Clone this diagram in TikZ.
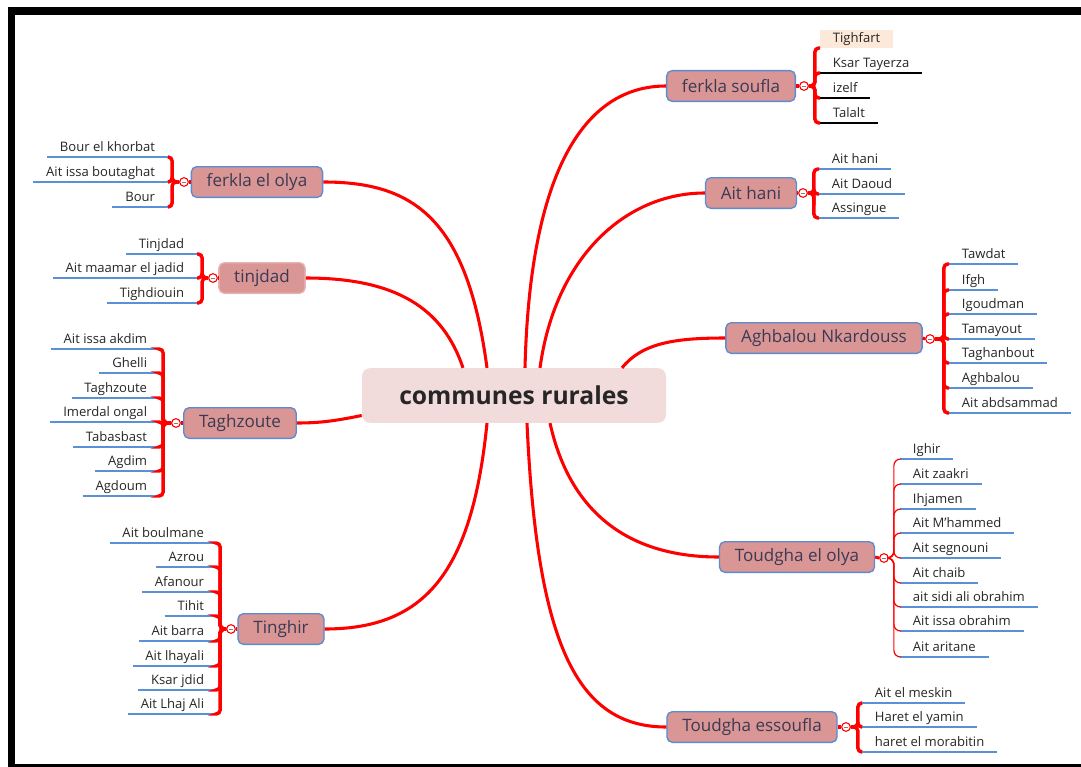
\documentclass[tikz,border=0pt]{standalone}
\usepackage{fontspec}
\setmainfont{Open Sans}
\usepackage{tikz}
\definecolor{mapred}{HTML}{FF0000}
\definecolor{topicfill}{HTML}{D99694}
\definecolor{topicline}{HTML}{5B8BD0}
\definecolor{topictext}{HTML}{3A3A55}
\definecolor{centrefill}{HTML}{F2DCDB}
\definecolor{leafline}{HTML}{5B8FD6}
\definecolor{leaftext}{HTML}{262626}
\definecolor{peach}{HTML}{FDE9D9}
\newcommand{\leafright}[4][leafline]{\node[leaf,anchor=south west] (#2) at (#3) {#4}; \draw[uline,draw=#1] (#2.south west) -- (#2.south east)}
\newcommand{\leafleft}[3]{\node[leaf,anchor=south east] (#1) at (#2) {#3}; \draw[uline] (#1.south west) -- (#1.south east)}
\newcommand{\fold}[2]{\node[fold] (#1) at (#2) {}}

\begin{document}
\begin{tikzpicture}[x=0.75pt,y=-0.75pt,
    centre/.style={fill=centrefill,rounded corners=6pt,minimum width=228pt,minimum height=41pt,
        font=\fontsize{18.5}{22}\selectfont\bfseries,text=leaftext},
    topic/.style={fill=topicfill,draw=topicline,line width=1pt,rounded corners=4pt,minimum height=23pt,
        inner xsep=11.5pt,font=\fontsize{12.8}{15}\selectfont,text=topictext},
    leaf/.style={inner xsep=9.5pt,inner ysep=1.8pt,text height=7.4pt,text depth=2.2pt,
        font=\fontsize{9.8}{11}\selectfont,text=leaftext},
    uline/.style={line width=1.5pt,draw=leafline},
    link/.style={mapred,line width=2.3pt},
    brace/.style={mapred,line width=2.6pt,rounded corners=3pt},
    thinbrace/.style={mapred,line width=0.9pt,rounded corners=5pt},
    fold/.style={circle,draw=mapred,fill=white,line width=0.8pt,minimum size=6.5pt,inner sep=0pt,
        path picture={\draw[gray,line width=0.4pt] ([xshift=-1.6pt]path picture bounding box.center)
        -- ([xshift=1.6pt]path picture bounding box.center);}}]
    \useasboundingbox (0,0) rectangle (1081,767);

    % frame
    \fill[black] (8,7) rectangle (1081,15);
    \fill[black] (8,7) rectangle (15,767);
    \fill[black] (15,764) rectangle (1081,767);

    \node[centre] (cr) at (514,395.5) {communes rurales};

    \node[topic] (fs) at (731,86) {ferkla soufla};
    \node[topic] (ah) at (751,193) {Ait hani};
    \node[topic] (ag) at (824,338) {Aghbalou Nkardouss};
    \node[topic] (te) at (797,557) {Toudgha el olya};
    \node[topic] (ts) at (752,727) {Toudgha essoufla};
    \node[topic] (fo) at (257,182) {ferkla el olya};
    \node[topic,draw=topicfill!70!white] (tj) at (262,278) {tinjdad};
    \node[topic] (tz) at (240,423) {Taghzoute};
    \node[topic] (tg) at (281,629) {Tinghir};

    \draw[link] ([xshift=8.25pt]cr.north) .. controls +(5,-200) and +(-80,0) .. (fs.west);
    \draw[link] ([xshift=19.5pt]cr.north) .. controls +(15,-110) and +(-80,0) .. (ah.west);
    \draw[link] ([xshift=81pt]cr.north) .. controls +(20,-25) and +(-50,0) .. (ag.west);
    \draw[link] ([xshift=27pt]cr.south) .. controls +(20,90) and +(-90,0) .. (te.west);
    \draw[link] ([xshift=9.75pt]cr.south) .. controls +(10,220) and +(-90,0) .. (ts.west);
    \draw[link] ([xshift=-20.25pt]cr.north) .. controls +(-20,-150) and +(90,0) .. (fo.east);
    \draw[link] ([xshift=-38.25pt]cr.north) .. controls +(-20,-60) and +(90,0) .. (tj.east);
    \draw[link] ([yshift=-15pt]cr.west) .. controls +(-25,5) and +(25,0) .. (tz.east);
    \draw[link] ([xshift=-20.25pt]cr.south) .. controls +(-15,150) and +(100,0) .. (tg.east);

    % ferkla soufla
    \fold{mfs}{804,86};
    \draw[link] (fs.east) -- (mfs.west);
    \node[leaf,fill=peach,anchor=south west] (fs1) at (820,48) {Tighfart};
    \leafright[black]{fs2}{820,73}{Ksar Tayerza};
    \leafright[black]{fs3}{820,98}{izelf};
    \leafright[black]{fs4}{820,123}{Talalt};
    \draw[brace] (mfs.east) -- ++(6,0) |- (fs1.south west);
    \draw[brace] (mfs.east) -- ++(6,0) |- (fs2.south west);
    \draw[brace] (mfs.east) -- ++(6,0) |- (fs3.south west);
    \draw[brace] (mfs.east) -- ++(6,0) |- (fs4.south west);

    % Ait hani
    \fold{mah}{803,193};
    \draw[link] (ah.east) -- (mah.west);
    \leafright{ah1}{819,169}{Ait hani};
    \leafright{ah2}{819,194}{Ait Daoud};
    \leafright{ah3}{819,218}{Assingue};
    \draw[brace] (mah.east) -- ++(6,0) |- (ah1.south west);
    \draw[brace] (mah.east) -- ++(6,0) |- (ah2.south west);
    \draw[brace] (mah.east) -- ++(6,0) |- (ah3.south west);

    % Aghbalou Nkardouss
    \fold{mag}{930,339};
    \draw[link] (ag.east) -- (mag.west);
    \leafright{ag1}{949,264}{Tawdat};
    \leafright{ag2}{949,290}{Ifgh};
    \leafright{ag3}{949,314}{Igoudman};
    \leafright{ag4}{949,339}{Tamayout};
    \leafright{ag5}{949,363}{Taghanbout};
    \leafright{ag6}{949,388}{Aghbalou};
    \leafright{ag7}{949,413}{Ait abdsammad};
    \draw[brace] (mag.east) -- ++(9,0) |- (ag1.south west);
    \draw[brace] (mag.east) -- ++(9,0) |- (ag2.south west);
    \draw[brace] (mag.east) -- ++(9,0) |- (ag3.south west);
    \draw[brace] (mag.east) -- ++(9,0) |- (ag4.south west);
    \draw[brace] (mag.east) -- ++(9,0) |- (ag5.south west);
    \draw[brace] (mag.east) -- ++(9,0) |- (ag6.south west);
    \draw[brace] (mag.east) -- ++(9,0) |- (ag7.south west);

    % Toudgha el olya
    \fold{mte}{884,558};
    \draw[link] (te.east) -- (mte.west);
    \leafright{te1}{900,459}{Ighir};
    \leafright{te2}{900,484}{Ait zaakri};
    \leafright{te3}{900,509}{Ihjamen};
    \leafright{te4}{900,533}{Ait M'hammed};
    \leafright{te5}{900,558}{Ait segnouni};
    \leafright{te6}{900,583}{Ait chaib};
    \leafright{te7}{900,607}{ait sidi ali obrahim};
    \leafright{te8}{900,631}{Ait issa obrahim};
    \leafright{te9}{900,657}{Ait aritane};
    \draw[thinbrace] (mte.east) -- ++(5,0) |- (te1.south west);
    \draw[thinbrace] (mte.east) -- ++(5,0) |- (te2.south west);
    \draw[thinbrace] (mte.east) -- ++(5,0) |- (te3.south west);
    \draw[thinbrace] (mte.east) -- ++(5,0) |- (te4.south west);
    \draw[thinbrace] (mte.east) -- ++(5,0) |- (te5.south west);
    \draw[thinbrace] (mte.east) -- ++(5,0) |- (te6.south west);
    \draw[thinbrace] (mte.east) -- ++(5,0) |- (te7.south west);
    \draw[thinbrace] (mte.east) -- ++(5,0) |- (te8.south west);
    \draw[thinbrace] (mte.east) -- ++(5,0) |- (te9.south west);

    % Toudgha essoufla
    \fold{mts}{846,727};
    \draw[link] (ts.east) -- (mts.west);
    \leafright{ts1}{862,703}{Ait el meskin};
    \leafright{ts2}{862,727}{Haret el yamin};
    \leafright{ts3}{862,752}{haret el morabitin};
    \draw[brace] (mts.east) -- ++(7,0) |- (ts1.south west);
    \draw[brace] (mts.east) -- ++(7,0) |- (ts2.south west);
    \draw[brace] (mts.east) -- ++(7,0) |- (ts3.south west);

    % ferkla el olya
    \fold{mfo}{184,182};
    \draw[link] (fo.west) -- (mfo.east);
    \leafleft{fo1}{168,157}{Bour el khorbat};
    \leafleft{fo2}{168,182}{Ait issa boutaghat};
    \leafleft{fo3}{168,207}{Bour};
    \draw[brace] (mfo.west) -- ++(-7,0) |- (fo1.south east);
    \draw[brace] (mfo.west) -- ++(-7,0) |- (fo2.south east);
    \draw[brace] (mfo.west) -- ++(-7,0) |- (fo3.south east);

    % tinjdad
    \fold{mtj}{213,278};
    \draw[link] (tj.west) -- (mtj.east);
    \leafleft{tj1}{197,254}{Tinjdad};
    \leafleft{tj2}{197,278}{Ait maamar el jadid};
    \leafleft{tj3}{197,303}{Tighdiouin};
    \draw[brace] (mtj.west) -- ++(-6,0) |- (tj1.south east);
    \draw[brace] (mtj.west) -- ++(-6,0) |- (tj2.south east);
    \draw[brace] (mtj.west) -- ++(-6,0) |- (tj3.south east);

    % Taghzoute
    \fold{mtz}{176,423};
    \draw[link] (tz.west) -- (mtz.east);
    \leafleft{tz1}{160,349}{Ait issa akdim};
    \leafleft{tz2}{160,373}{Ghelli};
    \leafleft{tz3}{160,398}{Taghzoute};
    \leafleft{tz4}{160,422}{Imerdal ongal};
    \leafleft{tz5}{160,447}{Tabasbast};
    \leafleft{tz6}{160,471}{Agdim};
    \leafleft{tz7}{160,496}{Agdoum};
    \draw[brace] (mtz.west) -- ++(-8,0) |- (tz1.south east);
    \draw[brace] (mtz.west) -- ++(-8,0) |- (tz2.south east);
    \draw[brace] (mtz.west) -- ++(-8,0) |- (tz3.south east);
    \draw[brace] (mtz.west) -- ++(-8,0) |- (tz4.south east);
    \draw[brace] (mtz.west) -- ++(-8,0) |- (tz5.south east);
    \draw[brace] (mtz.west) -- ++(-8,0) |- (tz6.south east);
    \draw[brace] (mtz.west) -- ++(-8,0) |- (tz7.south east);

    % Tinghir
    \fold{mtg}{231,629};
    \draw[link] (tg.west) -- (mtg.east);
    \leafleft{tg1}{217,543}{Ait boulmane};
    \leafleft{tg2}{217,567}{Azrou};
    \leafleft{tg3}{217,592}{Afanour};
    \leafleft{tg4}{217,616}{Tihit};
    \leafleft{tg5}{217,641}{Ait barra};
    \leafleft{tg6}{217,666}{Ait lhayali};
    \leafleft{tg7}{217,690}{Ksar jdid};
    \leafleft{tg8}{217,714}{Ait Lhaj Ali};
    \draw[brace] (mtg.west) -- ++(-6,0) |- (tg1.south east);
    \draw[brace] (mtg.west) -- ++(-6,0) |- (tg2.south east);
    \draw[brace] (mtg.west) -- ++(-6,0) |- (tg3.south east);
    \draw[brace] (mtg.west) -- ++(-6,0) |- (tg4.south east);
    \draw[brace] (mtg.west) -- ++(-6,0) |- (tg5.south east);
    \draw[brace] (mtg.west) -- ++(-6,0) |- (tg6.south east);
    \draw[brace] (mtg.west) -- ++(-6,0) |- (tg7.south east);
    \draw[brace] (mtg.west) -- ++(-6,0) |- (tg8.south east);
\end{tikzpicture}
\end{document}
